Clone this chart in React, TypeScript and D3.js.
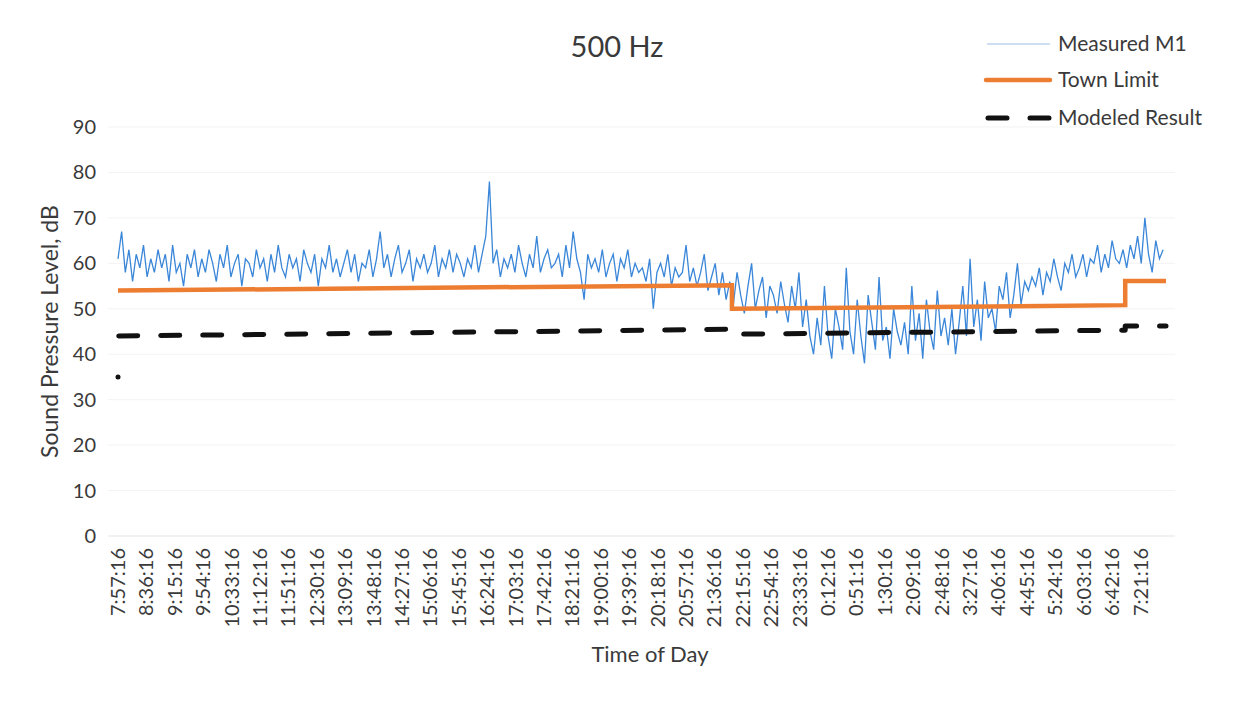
import { useEffect, useRef } from 'react'
import * as d3 from 'd3'

const WIDTH = 1233
const HEIGHT = 708

// x axis category labels (every 39 minutes)
const tickLabels = [
  '7:57:16', '8:36:16', '9:15:16', '9:54:16', '10:33:16', '11:12:16', '11:51:16', '12:30:16',
  '13:09:16', '13:48:16', '14:27:16', '15:06:16', '15:45:16', '16:24:16', '17:03:16', '17:42:16',
  '18:21:16', '19:00:16', '19:39:16', '20:18:16', '20:57:16', '21:36:16', '22:15:16', '22:54:16',
  '23:33:16', '0:12:16', '0:51:16', '1:30:16', '2:09:16', '2:48:16', '3:27:16', '4:06:16',
  '4:45:16', '5:24:16', '6:03:16', '6:42:16', '7:21:16'
]
const yTicks = [0, 10, 20, 30, 40, 50, 60, 70, 80, 90]

const startTime = '7:57'
const totalMinutes = 1440
const sampleStep = 5 // minutes between measured samples

// Measured M1, dB, one row per hour starting 7:57
const measuredM1 = [
  61, 67, 58, 63, 56, 62, 59, 64, 57, 61, 58, 63,
  59, 62, 56, 64, 58, 60, 55, 62, 59, 63, 57, 61,
  58, 63, 60, 56, 62, 59, 64, 57, 60, 62, 55, 61,
  60, 57, 63, 59, 61, 56, 62, 58, 64, 59, 57, 62,
  59, 61, 56, 63, 60, 58, 62, 55, 61, 59, 64, 58,
  61, 57, 60, 63, 58, 62, 56, 60, 59, 63, 57, 61,
  67, 59, 62, 57, 61, 64, 58, 60, 63, 56, 61, 59,
  62, 58, 60, 64, 57, 61, 59, 63, 58, 62, 60, 57,
  61, 59, 64, 58, 62, 66, 78, 60, 63, 57, 61, 59,
  62, 58, 64, 60, 57, 62, 59, 66, 58, 61, 63, 59,
  60, 62, 57, 64, 59, 67, 61, 58, 52, 62, 59, 61,
  58, 63, 57, 60, 62, 56, 61, 59, 63, 57, 60, 58,
  59, 56, 61, 50, 58, 60, 57, 62, 55, 59, 57, 58,
  64, 56, 59, 55, 58, 62, 54, 57, 60, 53, 58, 52,
  56, 51, 58, 53, 49, 55, 60, 50, 54, 57, 48, 55,
  53, 49, 56, 51, 47, 55, 50, 58, 46, 52, 44, 40,
  48, 42, 55, 44, 39, 50, 46, 41, 59, 45, 40, 52,
  44, 38, 53, 47, 41, 57, 43, 46, 39, 50, 45, 42,
  47, 40, 55, 43, 49, 39, 52, 45, 41, 54, 44, 48,
  42, 50, 40, 47, 55, 44, 61, 46, 52, 43, 56, 48,
  50, 45, 55, 52, 58, 48, 53, 60, 51, 56, 54, 57,
  55, 59, 53, 58, 56, 61, 57, 54, 60, 58, 62, 57,
  59, 62, 57, 61, 60, 64, 58, 62, 59, 65, 61, 60,
  63, 59, 64, 61, 66, 60, 70, 62, 58, 65, 61, 63
]

// Town limit, step changes at 22:00 and 7:00
const limitTimes = ['7:57', '22:00', '22:00', '7:00', '7:00', '7:56']
const limitValues = [54.0, 55.2, 50.0, 50.8, 56.1, 56.1]

// Modeled result
const modeledFirstTime = '7:57'
const modeledFirstValue = 35
const modeledTimes = ['7:58', '22:00', '22:00', '7:00', '7:00', '7:56']
const modeledValues = [44.0, 45.5, 44.4, 45.3, 46.2, 46.2]

const FONT = 'Lato, "Open Sans", sans-serif'
const TEXT = '#3a3a3a'

function toMinutes(t: string): number {
  const [h, m] = t.split(':').map(Number)
  const [h0, m0] = startTime.split(':').map(Number)
  return (h * 60 + m - (h0 * 60 + m0) + 1440) % 1440
}

export default function App() {
  const svgRef = useRef<SVGSVGElement>(null)

  useEffect(() => {
    if (!svgRef.current) return
    const svg = d3.select(svgRef.current)
    svg.selectAll('*').remove()

    const plot = { left: 108, right: 1175, top: 127, bottom: 536 }

    const x = d3.scaleLinear().domain([0, totalMinutes - 1]).range([118, 1166])
    const y = d3.scaleLinear().domain([0, 90]).range([plot.bottom, plot.top])

    // gridlines
    svg.append('g')
      .selectAll('line')
      .data(yTicks)
      .enter()
      .append('line')
      .attr('x1', plot.left)
      .attr('x2', plot.right)
      .attr('y1', d => y(d))
      .attr('y2', d => y(d))
      .attr('stroke', d => (d === 0 ? '#e3e3e3' : '#f3f3f3'))
      .attr('stroke-width', 1)

    // y axis labels
    svg.append('g')
      .selectAll('text')
      .data(yTicks)
      .enter()
      .append('text')
      .attr('x', 96)
      .attr('y', d => y(d))
      .attr('dy', '0.35em')
      .attr('text-anchor', 'end')
      .style('font-family', FONT)
      .style('font-size', '20px')
      .style('fill', TEXT)
      .text(d => d)

    // x axis labels
    svg.append('g')
      .selectAll('text')
      .data(tickLabels)
      .enter()
      .append('text')
      .attr('transform', (_, i) => `translate(${x(i * 39)},${plot.bottom + 12}) rotate(-90)`)
      .attr('dy', '0.35em')
      .attr('text-anchor', 'end')
      .style('font-family', FONT)
      .style('font-size', '20px')
      .style('fill', TEXT)
      .text(d => d)

    // measured
    const measuredLine = d3.line<number>()
      .x((_, i) => x(i * sampleStep))
      .y(d => y(d))
    svg.append('path')
      .datum(measuredM1)
      .attr('d', measuredLine)
      .attr('fill', 'none')
      .attr('stroke', '#3a86d8')
      .attr('stroke-width', 1.3)

    // town limit
    const limitLine = d3.line<number>()
      .x((_, i) => x(toMinutes(limitTimes[i])))
      .y(d => y(d))
    svg.append('path')
      .datum(limitValues)
      .attr('d', limitLine)
      .attr('fill', 'none')
      .attr('stroke', '#ED7D31')
      .attr('stroke-width', 4.5)

    // modeled
    const modeledLine = d3.line<number>()
      .x((_, i) => x(toMinutes(modeledTimes[i])))
      .y(d => y(d))
    svg.append('path')
      .datum(modeledValues)
      .attr('d', modeledLine)
      .attr('fill', 'none')
      .attr('stroke', '#111')
      .attr('stroke-width', 5)
      .attr('stroke-linecap', 'round')
      .attr('stroke-linejoin', 'round')
      .attr('stroke-dasharray', '19 23')
    svg.append('circle')
      .attr('cx', x(toMinutes(modeledFirstTime)))
      .attr('cy', y(modeledFirstValue))
      .attr('r', 2.5)
      .attr('fill', '#111')

    // title
    svg.append('text')
      .attr('x', 617)
      .attr('y', 47)
      .attr('dy', '0.35em')
      .attr('text-anchor', 'middle')
      .style('font-family', FONT)
      .style('font-size', '29px')
      .style('fill', TEXT)
      .text('500 Hz')

    // axis titles
    svg.append('text')
      .attr('x', 650)
      .attr('y', 654)
      .attr('dy', '0.35em')
      .attr('text-anchor', 'middle')
      .style('font-family', FONT)
      .style('font-size', '22px')
      .style('fill', TEXT)
      .text('Time of Day')

    svg.append('text')
      .attr('transform', `translate(50,${(plot.top + plot.bottom) / 2}) rotate(-90)`)
      .attr('dy', '0.35em')
      .attr('text-anchor', 'middle')
      .style('font-family', FONT)
      .style('font-size', '23px')
      .style('fill', TEXT)
      .text('Sound Pressure Level, dB')

    // legend
    const legend = svg.append('g')
    const legendRows = [
      { label: 'Measured M1', y: 44 },
      { label: 'Town Limit', y: 80 },
      { label: 'Modeled Result', y: 118 }
    ]
    legend.append('line')
      .attr('x1', 987).attr('x2', 1050)
      .attr('y1', legendRows[0].y).attr('y2', legendRows[0].y)
      .attr('stroke', '#9dbfe9').attr('stroke-width', 1.2)
    legend.append('line')
      .attr('x1', 986).attr('x2', 1050)
      .attr('y1', legendRows[1].y).attr('y2', legendRows[1].y)
      .attr('stroke', '#ED7D31').attr('stroke-width', 4.5).attr('stroke-linecap', 'round')
    legend.append('line')
      .attr('x1', 988).attr('x2', 1050)
      .attr('y1', legendRows[2].y).attr('y2', legendRows[2].y)
      .attr('stroke', '#111').attr('stroke-width', 5).attr('stroke-linecap', 'round')
      .attr('stroke-dasharray', '19 23')
    legend.selectAll('text')
      .data(legendRows)
      .enter()
      .append('text')
      .attr('x', 1058)
      .attr('y', d => d.y)
      .attr('dy', '0.35em')
      .style('font-family', FONT)
      .style('font-size', '21px')
      .style('fill', TEXT)
      .text(d => d.label)
  }, [])

  return (
    <div style={{ width: WIDTH, height: HEIGHT, margin: -8, background: '#fff' }}>
      <svg ref={svgRef} width={WIDTH} height={HEIGHT}></svg>
    </div>
  )
}
